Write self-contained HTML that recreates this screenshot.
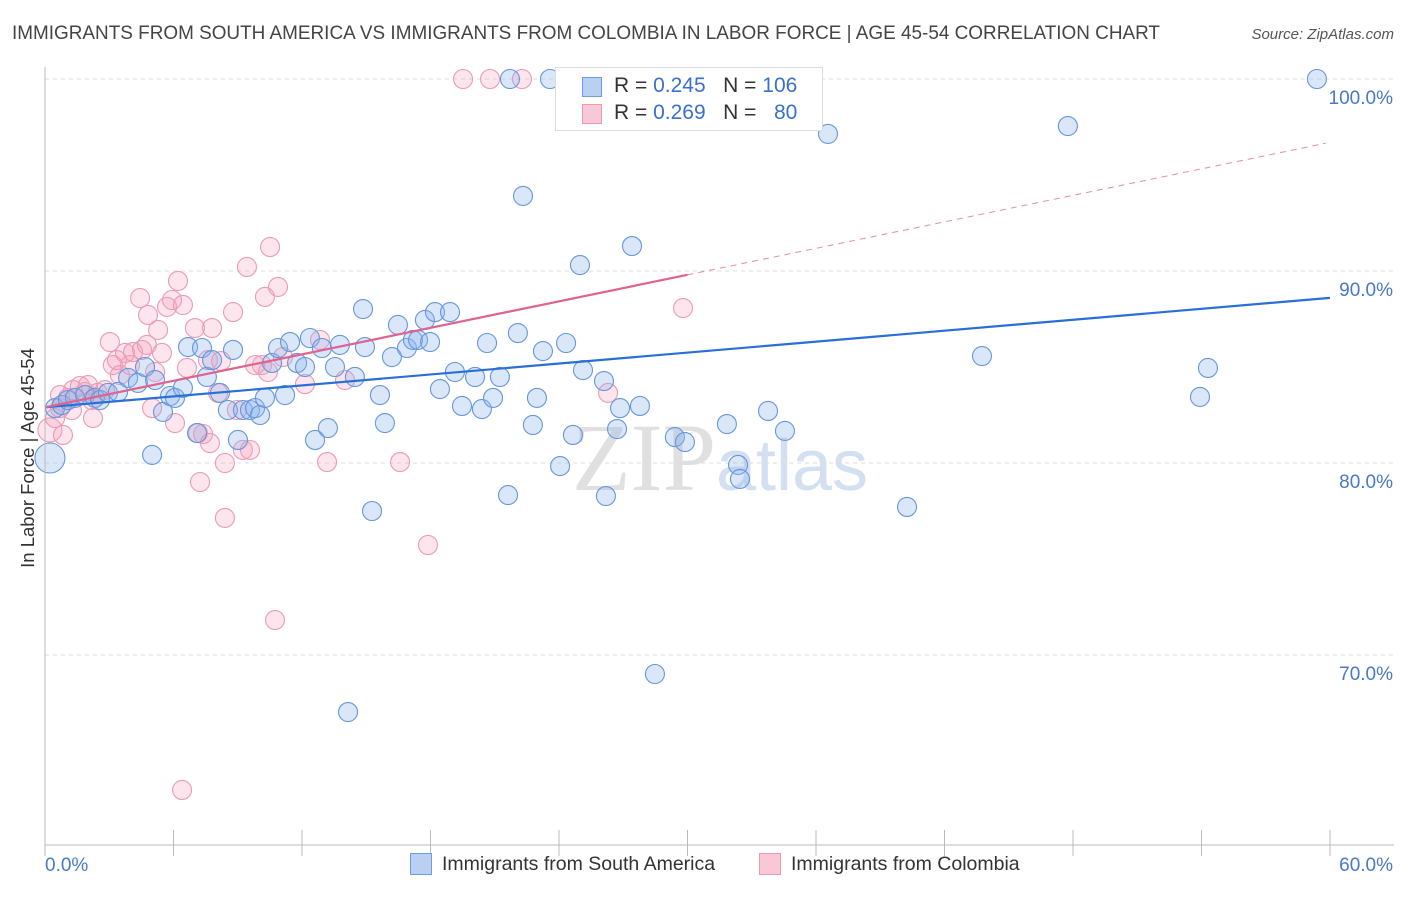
<!DOCTYPE html>
<html><head><meta charset="utf-8"><style>
body{margin:0;background:#fff;font-family:"Liberation Sans",sans-serif}
#wrap{position:relative;width:1406px;height:892px}
</style></head><body>
<div id="wrap">
<svg id="svg" width="1406" height="892" xmlns="http://www.w3.org/2000/svg">
<text x="12" y="39" font-size="19" fill="#444" textLength="1148" lengthAdjust="spacingAndGlyphs">IMMIGRANTS FROM SOUTH AMERICA VS IMMIGRANTS FROM COLOMBIA IN LABOR FORCE | AGE 45-54 CORRELATION CHART</text>
<text x="1394" y="39" font-size="15" fill="#555" font-style="italic" text-anchor="end">Source: ZipAtlas.com</text>
<text x="34" y="458" font-size="18.5" fill="#333" text-anchor="middle" transform="rotate(-90 34 458)">In Labor Force | Age 45-54</text>
<text x="720" y="490" font-size="96" text-anchor="middle" font-family="Liberation Serif,serif"><tspan fill="#e0e0e0">ZIP</tspan><tspan fill="#d3e0f2" font-family="Liberation Sans,sans-serif" font-size="72">atlas</tspan></text>
<g id="grid"></g><g id="pts"></g><g id="lines"></g><g id="axes"></g>
</svg>
<div style="position:absolute;left:555px;top:67px;width:266px;height:62px;border:1px solid #ddd;background:#fff;font-size:21px;color:#333">
<div style="position:absolute;left:26px;top:9px;width:18px;height:18px;background:#b9d0f2;border:1px solid #6f9be0"></div>
<div style="position:absolute;left:58px;top:6px">R = <span style="color:#3a6fd0">0.245</span>&nbsp;&nbsp;&nbsp;N = <span style="color:#3a6fd0">106</span></div>
<div style="position:absolute;left:26px;top:36px;width:18px;height:18px;background:#f9c8d7;border:1px solid #eb99b4"></div>
<div style="position:absolute;left:58px;top:33px">R = <span style="color:#3a6fd0">0.269</span>&nbsp;&nbsp;&nbsp;N = &nbsp;&nbsp;<span style="color:#3a6fd0">80</span></div>
</div>
<div style="position:absolute;left:410px;top:853px;width:20px;height:20px;background:#b9d0f2;border:1px solid #6f9be0"></div>
<div style="position:absolute;left:442px;top:853px;font-size:19.5px;color:#333">Immigrants from South America</div>
<div style="position:absolute;left:759px;top:853px;width:20px;height:20px;background:#f9c8d7;border:1px solid #eb99b4"></div>
<div style="position:absolute;left:791px;top:853px;font-size:19.5px;color:#333">Immigrants from Colombia</div>
</div>
<script>
const blueX=[0.23,0.47,0.79,1.07,1.40,1.87,2.33,2.57,2.94,3.41,3.88,4.34,4.67,5.14,5.0,5.51,5.84,6.07,6.44,6.68,7.10,7.33,7.56,7.80,8.17,8.54,8.78,9.01,9.24,9.57,9.81,10.04,10.27,10.60,10.88,11.21,11.44,11.77,12.14,12.37,12.61,12.93,13.21,13.54,13.77,14.47,14.85,14.94,15.27,15.64,15.87,16.20,16.48,16.90,17.18,17.42,17.74,17.98,18.21,18.44,18.91,19.14,19.47,20.08,20.40,20.64,20.92,21.24,21.62,22.08,22.32,22.78,22.97,23.25,24.05,24.33,24.65,24.98,25.12,26.10,26.19,26.71,26.85,27.41,27.78,28.48,29.41,29.88,32.36,32.45,31.84,33.76,34.55,36.56,40.25,43.75,47.76,53.93,54.30,59.39,21.71,23.58,35.25,14.15];
const blueY=[80.26,82.86,83.02,83.28,83.39,83.54,83.39,83.28,83.65,83.70,84.43,84.17,85.0,84.32,80.42,82.66,83.49,83.39,83.91,86.04,81.56,85.99,84.48,85.36,83.65,82.76,85.89,81.2,82.76,82.76,82.86,82.5,83.39,85.21,85.99,83.54,86.30,85.21,85.0,86.51,81.2,85.99,81.82,85.0,86.15,84.48,88.02,86.04,77.5,83.54,82.08,85.52,87.19,85.99,86.41,86.41,87.45,86.30,87.86,83.85,87.86,84.74,82.97,84.48,82.81,86.25,83.39,84.48,78.33,86.77,93.91,81.98,83.39,85.83,79.84,86.25,81.46,90.31,84.84,84.27,78.28,81.77,82.86,91.30,82.97,69.01,81.35,81.09,79.9,79.17,82.03,82.71,81.67,97.14,77.71,85.57,97.55,83.44,84.95,100,100,100,100,67.03];
const pinkX=[0.23,0.47,0.70,0.84,1.07,1.31,1.63,1.87,2.01,2.24,2.47,2.80,3.03,3.17,3.36,3.50,3.74,3.97,4.11,4.44,4.53,4.76,4.81,5.00,5.14,5.28,5.46,5.70,5.93,6.07,6.21,6.44,6.63,7.00,7.14,7.24,7.38,7.61,7.70,7.80,8.08,8.22,8.40,8.40,8.78,8.96,9.24,9.43,9.57,9.81,10.13,10.27,10.41,10.51,10.74,10.88,11.11,12.14,12.84,13.17,14.01,16.58,17.88,19.52,20.78,22.27,26.29,29.79,6.40,2.19,0.70,1.26];
const pinkY=[81.72,82.34,82.86,81.46,83.39,83.80,84.01,83.70,84.06,82.34,83.65,83.80,86.30,85.10,85.36,84.58,85.73,85.10,85.78,88.59,85.89,86.15,87.71,82.86,84.74,86.93,85.73,88.13,88.49,82.08,89.48,88.23,84.95,87.03,81.56,79.01,81.51,85.36,81.04,87.03,83.65,85.31,77.14,80.0,87.86,82.76,80.68,90.21,80.68,85.10,85.10,88.65,84.74,91.25,71.82,89.17,85.52,84.11,86.41,80.05,84.32,80.05,75.73,100,100,100,83.65,88.07,62.97,83.28,83.54,82.76];
const blueTrend=[82.9,88.6];
const pinkTrend=[82.9,89.8,30];
const xTicks=[0,6,12,18,24,30,36,42,48,54,60];
const yTicks=[100,90,80,70];
const yTickLabels=["100.0%","90.0%","80.0%","70.0%"];
const NS="http://www.w3.org/2000/svg";
const X=v=>45+v*(1285/60), Y=v=>79+(100-v)*19.2;
function mk(tag,attrs,parent){const e=document.createElementNS(NS,tag);for(const k in attrs)e.setAttribute(k,attrs[k]);document.getElementById(parent).appendChild(e);return e;}
yTicks.forEach((t,i)=>{
 const l=mk('line',{x1:45,x2:1394,y1:Y(t),y2:Y(t),stroke:'#ddd','stroke-dasharray':'4 4'},'grid');
 
 
 const tx=mk('text',{x:1393,y:Y(t)+25,'font-size':19,fill:'#4a78c8','text-anchor':'end'},'axes');tx.textContent=yTickLabels[i];
 
 
});
const ax=mk('line',{x1:45,x2:45,y1:67,y2:845,stroke:'#bbb'},'axes');


const bx=mk('line',{x1:45,x2:1394,y1:845,y2:845,stroke:'#bbb'},'axes');


xTicks.forEach(t=>{const l=mk('line',{x1:X(t),x2:X(t),y1:830,y2:856,stroke:'#bbb'},'axes');
 
 });
const xl0=mk('text',{x:45,y:871,'font-size':19,fill:'#4a78c8'},'axes');xl0.textContent='0.0%';


const xl1=mk('text',{x:1393,y:871,'font-size':19,fill:'#4a78c8','text-anchor':'end'},'axes');xl1.textContent='60.0%';


function pts(xs,ys,fill,stroke,name){xs.forEach((x,i)=>{const r=(i===0&&x<0.5)?(name==='blue-point'?15:12):9.5;
 const c=mk('circle',{cx:X(x),cy:Y(ys[i]),r:r,fill:fill,stroke:stroke,'stroke-width':1.1},'pts');
 
 });}
pts(pinkX,pinkY,'rgba(244,160,188,0.28)','#ec9ab7','pink-point');
pts(blueX,blueY,'rgba(140,180,235,0.32)','#6696dc','blue-point');
const bl=mk('line',{x1:X(0),y1:Y(blueTrend[0]),x2:X(60),y2:Y(blueTrend[1]),stroke:'#2a6fd6','stroke-width':2.2},'lines');


const pk=mk('line',{x1:X(0),y1:Y(pinkTrend[0]),x2:X(pinkTrend[2]),y2:Y(pinkTrend[1]),stroke:'#e0628f','stroke-width':2.2},'lines');


const slope=(pinkTrend[1]-pinkTrend[0])/pinkTrend[2];
const pd=mk('line',{x1:X(pinkTrend[2]),y1:Y(pinkTrend[1]),x2:X(59.8),y2:Y(pinkTrend[0]+slope*59.8),stroke:'#e88aab','stroke-width':1,'stroke-dasharray':'6 5'},'lines');


</script>
</body></html>
